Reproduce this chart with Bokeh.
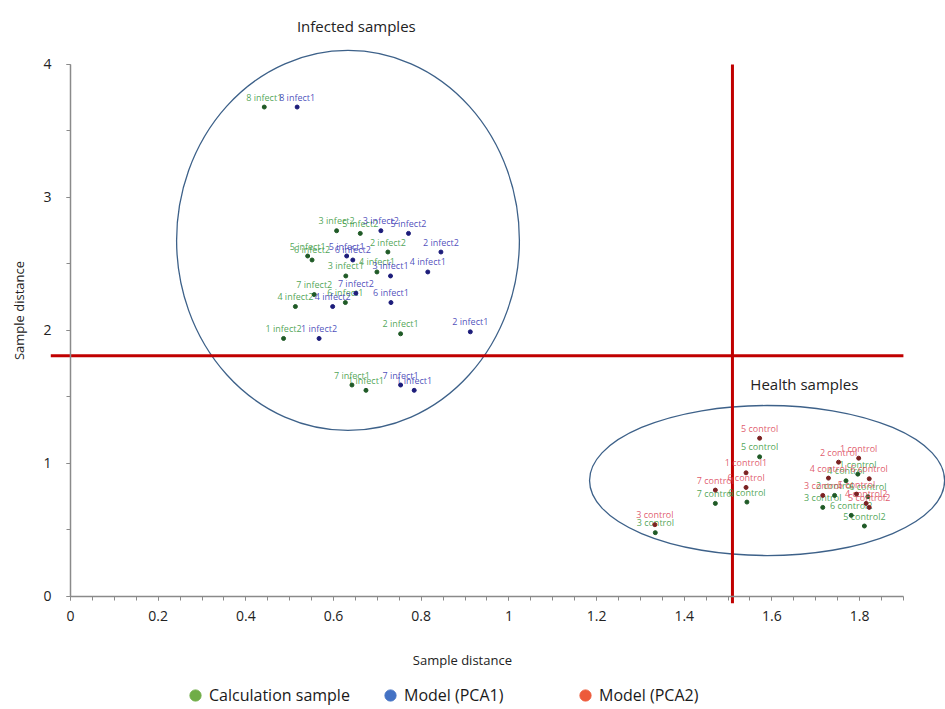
from bokeh.plotting import figure
from bokeh.models import Range1d, FixedTicker, Legend, LegendItem, ColumnDataSource
from bokeh.core.properties import value
from bokeh.embed import file_html
from bokeh.resources import INLINE
import math

# ---------------- data ----------------
calc_inf_x = [0.442, 0.607, 0.661, 0.724, 0.541, 0.551, 0.628, 0.699, 0.556, 0.513, 0.627, 0.486, 0.753, 0.642, 0.674]
calc_inf_y = [3.68, 2.75, 2.73, 2.59, 2.56, 2.53, 2.41, 2.44, 2.27, 2.18, 2.21, 1.94, 1.975, 1.59, 1.55]
calc_inf_lab = ["8 infect1", "3 infect2", "5 infect2", "2 infect2", "5 infect1", "6 infect2", "3 infect1",
                "4 infect1", "7 infect2", "4 infect2", "6 infect1", "1 infect2", "2 infect1", "7 infect1", "1 infect1"]

pca1_x = [0.517, 0.708, 0.771, 0.845, 0.630, 0.644, 0.730, 0.815, 0.651, 0.598, 0.731, 0.567, 0.912, 0.753, 0.784]
pca1_y = [3.68, 2.75, 2.73, 2.59, 2.56, 2.53, 2.41, 2.44, 2.28, 2.18, 2.21, 1.94, 1.99, 1.59, 1.55]
pca1_lab = ["8 infect1", "3 infect2", "5 infect2", "2 infect2", "5 infect1", "6 infect2", "3 infect1",
            "4 infect1", "7 infect2", "4 infect2", "6 infect1", "1 infect2", "2 infect1", "7 infect1", "1 infect1"]

calc_hl_x = [1.572, 1.543, 1.471, 1.334, 1.796, 1.769, 1.743, 1.716, 1.819, 1.781, 1.811]
calc_hl_y = [1.05, 0.71, 0.70, 0.48, 0.92, 0.87, 0.76, 0.67, 0.75, 0.61, 0.53]
calc_hl_lab = ["5 control", "6 control", "7 control", "3 control", "1 control", "4 control",
               "2 control", "3 control", "6 control", "6 control2", "5 control2"]

pca2_x = [1.572, 1.541, 1.541, 1.471, 1.333, 1.798, 1.752, 1.729, 1.822, 1.716, 1.793, 1.815, 1.822]
pca2_y = [1.19, 0.93, 0.82, 0.80, 0.54, 1.04, 1.01, 0.89, 0.885, 0.76, 0.77, 0.70, 0.67]
pca2_lab = ["5 control", "1 control1", "6 control", "7 control", "3 control", "1 control", "2 control",
            "4 control", "6 control", "3 control", "5 control", "4 control2", "5 control2"]

# group ellipses (center x, center y, width, height)
groups = ["Infected samples", "Health samples"]
group_cx = [0.633, 1.589]
group_cy = [2.677, 0.872]
group_w = [0.782, 0.81]
group_h = [2.857, 1.128]
group_label_x = [0.652, 1.674]
group_label_y = [4.29, 1.60]

split_x = 1.51
split_y = 1.81
split_line_x_start = -0.045
split_line_y_start = -0.05
x_axis_end = 1.9
y_axis_end = 4

x_ticks = [0, 0.2, 0.4, 0.6, 0.8, 1, 1.2, 1.4, 1.6, 1.8]
y_ticks = [0, 1, 2, 3, 4]
axis_title = "Sample distance"

legend_names = ["Calculation sample", "Model (PCA1)", "Model (PCA2)"]
legend_colors = ["#70ad47", "#4472c4", "#ed5a3a"]

FONT = "Open Sans"

# ---------------- figure ----------------
p = figure(width=945, height=709, x_range=Range1d(-0.1597, 1.996), y_range=Range1d(-0.8496, 4.481),
           output_backend="svg", toolbar_location=None,
           min_border_left=0, min_border_right=0, min_border_top=0, min_border_bottom=0)
p.outline_line_color = None
p.grid.visible = False
p.background_fill_color = "white"

# axes (drawn at the data origin)
xa = p.xaxis[0]
xa.fixed_location = 0
xa.bounds = (0, x_axis_end)
xa.ticker = FixedTicker(ticks=x_ticks, minor_ticks=[i * 0.05 for i in range(0, 39)])
xa.major_label_overrides = {0: "0", 1: "1"}
ya = p.yaxis[0]
ya.fixed_location = 0
ya.bounds = (0, y_axis_end)
ya.ticker = FixedTicker(ticks=y_ticks, minor_ticks=[i * 0.5 for i in range(0, 9)])
for ax in (xa, ya):
    ax.axis_line_color = "#8a8a8a"
    ax.axis_line_width = 1.5
    ax.major_tick_line_color = "#8a8a8a"
    ax.minor_tick_line_color = "#8a8a8a"
    ax.major_tick_out = 4
    ax.major_tick_in = 0
    ax.minor_tick_out = 4
    ax.minor_tick_in = 0
    ax.major_label_text_font = FONT
    ax.major_label_text_font_size = "14px"
    ax.major_label_text_color = "#222222"
xa.major_label_standoff = 11
ya.major_label_standoff = 15

# axis titles, placed as in the reference (x title slightly left of centre)
p.text(x=[0.894], y=[-0.481], text=[axis_title], text_font=value(FONT), text_font_size="13px",
       text_color="#222222", text_align="center", text_baseline="middle")
p.text(x=[-0.1186], y=[2.15], text=[axis_title], angle=math.pi / 2, text_font=value(FONT),
       text_font_size="13px", text_color="#222222", text_align="center", text_baseline="middle")

# group ellipses
p.ellipse(x=group_cx, y=group_cy, width=group_w, height=group_h,
          fill_color=None, line_color="#3d6189", line_width=1.3)
p.text(x=group_label_x, y=group_label_y, text=groups, text_font=value(FONT),
       text_font_size="15px", text_color="#222222", text_align="center", text_baseline="middle")

# red separating lines
p.segment(x0=[split_line_x_start, split_x], y0=[split_y, split_line_y_start],
          x1=[x_axis_end, split_x], y1=[split_y, y_axis_end],
          line_color="#c00000", line_width=3)

# points and labels
series = [
    (calc_inf_x + calc_hl_x, calc_inf_y + calc_hl_y, calc_inf_lab + calc_hl_lab, "#1f5a26", "#3c9a44"),
    (pca1_x, pca1_y, pca1_lab, "#1c1c7a", "#3a3ab4"),
    (pca2_x, pca2_y, pca2_lab, "#7a2222", "#dc4a5c"),
]
for xs, ys, labs, dot_c, txt_c in series:
    src = ColumnDataSource(dict(x=xs, y=ys, t=labs))
    p.text(x="x", y="y", text="t", source=src, text_font=value(FONT), text_font_size="9px",
           text_color=txt_c, text_align="center", text_baseline="middle", y_offset=-10, text_alpha=0.9)
    p.scatter(x="x", y="y", source=src, size=4, color=dot_c)

# legend (NaN-only renderers just carry the legend colours)
items = []
for name, col in zip(legend_names, legend_colors):
    r = p.scatter(x=[float("nan")], y=[float("nan")], size=11, color=col)
    items.append(LegendItem(label=name, renderers=[r]))
legend = Legend(items=items, orientation="horizontal", location=(181, 0),
                glyph_width=28, glyph_height=28, label_standoff=0, label_width=167, spacing=0,
                padding=0, margin=0, border_line_color=None, background_fill_alpha=0,
                label_text_font=FONT, label_text_font_size="16px", label_text_color="#1a1a1a")
p.add_layout(legend, "center")

open("out.html", "w").write(file_html(p, INLINE))
